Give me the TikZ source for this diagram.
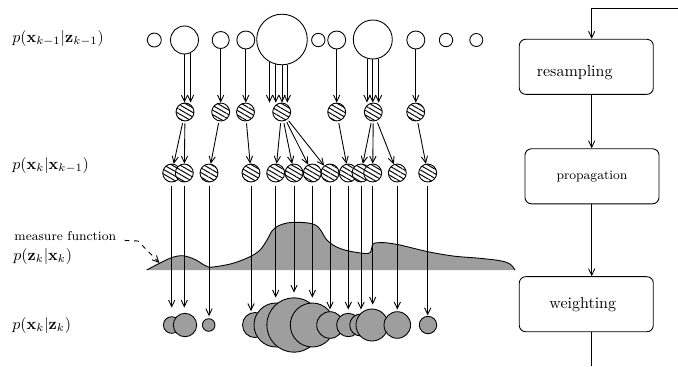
\documentclass[tikz,border=0pt]{standalone}
\usetikzlibrary{arrows.meta,patterns.meta,calc}
\definecolor{wfill}{RGB}{158,158,158}
\tikzset{
  arr/.style={-{Straight Barb[length=4.1pt,width=3.9pt]}},
  ocirc/.style={circle,draw,inner sep=0pt,minimum size={#1*1.25pt}},
  hcirc/.style={circle,draw,inner sep=0pt,minimum size=11.2pt,preaction={fill=white},
    pattern={Lines[angle=-30,distance=2.5pt,line width=0.6pt]}},
  wcirc/.style={circle,draw,fill=wfill,inner sep=0pt,minimum size={#1*1.25pt}},
  fbox/.style={draw,rounded corners=4pt,minimum width=83.75pt,minimum height=34.4pt,inner sep=0pt},
  lab/.style={inner sep=0pt,anchor=west},
}
\begin{document}
\begin{tikzpicture}[x=0.625pt,y=-0.625pt,line width=0.55pt]
\useasboundingbox (0,0) rectangle (678,366);

% measure function
\fill[wfill] plot[smooth,tension=0.55] coordinates {(146.7,270) (160,263) (172,257.5) (183,255.7) (195,259.5) (204,265) (209,267.2) (220,266) (234,263) (250,256.7) (260,250) (267,240) (272,231) (278,226) (287,223) (298,222.3) (310,223.3) (317,226) (321.7,231.7) (326,239) (333,245) (343,249.5) (357,252.5) (368,253.5) (371,251) (372.5,244.5) (375,243) (385,242.7) (400,245) (427,251.5) (453,256) (480,258.3) (500,260.7) (510,264) (515,270)} -- cycle;
\draw plot[smooth,tension=0.55] coordinates {(146.7,270) (160,263) (172,257.5) (183,255.7) (195,259.5) (204,265) (209,267.2) (220,266) (234,263) (250,256.7) (260,250) (267,240) (272,231) (278,226) (287,223) (298,222.3) (310,223.3) (317,226) (321.7,231.7) (326,239) (333,245) (343,249.5) (357,252.5) (368,253.5) (371,251) (372.5,244.5) (375,243) (385,242.7) (400,245) (427,251.5) (453,256) (480,258.3) (500,260.7) (510,264) (515,270)};

% labels
\node[lab] (l1) at (12,38.5) {$p(\mathbf{x}_{k-1}|\mathbf{z}_{k-1})$};
\node[lab] (l2) at (12,165) {$p(\mathbf{x}_k|\mathbf{x}_{k-1})$};
\node[lab,anchor=base west,font=\footnotesize] (mf) at (14,240) {measure function};
\node[lab] (l3) at (13,256.5) {$p(\mathbf{z}_k|\mathbf{x}_k)$};
\node[lab] (l4) at (12,325) {$p(\mathbf{x}_k|\mathbf{z}_k)$};
\coordinate (mk) at (138,241);
\coordinate (mt) at (159.5,263);
\draw[arr,dashed,shorten <=5pt] (mf.base east) -- (mk) -- (mt);

% row 1: prior particles
\foreach \n/\x/\y/\r in {1/154.3/40/7,2/184.5/40/14,3/220.7/40/8.5,4/245.8/40/9,5/282/39.5/25.3,6/318.3/40/6.7,7/336.7/40/9,8/372.8/39.5/19.5,9/415.8/40/9,10/446/40/6.7,11/476.3/40/6.5}
  \node[ocirc=\r] (c\n) at (\x,\y) {};

% row 2: resampled particles
\foreach \n/\x in {1/185,2/220.7,3/245.5,4/281.7,5/336.7,6/373.3,7/415.7}
  \node[hcirc] (s\n) at (\x,112) {};

% row 1 -> row 2
\foreach \c/\a/\s in {2/270/1,2/295.4/1,3/270/2,4/270/3,5/241.7/4,5/256.3/4,5/270/4,5/282.6/4,7/270/5,8/253/6,8/270/6,8/287.9/6,9/270/7}
  \draw[arr] (c\c.\a) -- (c\c.\a |- s\s.north);

% row 3: propagated particles
\foreach \n/\x in {1/171.7,2/184.3,3/209,4/251,5/275.7,6/294,7/312.3,8/330,9/348.3,10/361,11/372.7,12/397.3,13/427.7}
  \node[hcirc] (q\n) at (\x,173) {};

% row 2 -> row 3
\foreach \s/\q in {1/1,1/2,2/3,3/4,4/5,4/6,4/7,4/8,5/9,6/10,6/11,6/12,7/13}
  \draw[arr,shorten <=1.2pt] (s\s) -- (q\q);

% row 4: weighted particles
\foreach \n/\x/\r in {1/171.7/8.3,2/185/11.7,3/208.7/6.3,4/255/12.5,5/276/22,6/294/27.2,7/312.3/22,8/330/13.3,9/348.3/11.7,10/360.7/11,11/372/16,12/397.3/13.3,13/428/8.7}
  \node[wcirc=\r] (w\n) at (\x,325) {};

% row 3 -> row 4
\foreach \n/\g in {1/5.4,2/3.3,3/1.25,4/0.6,5/3.1,6/3,7/3.1,8/1.1,9/2.1,10/2.5,11/2.5,12/1.1,13/0.3}
  \draw[arr,shorten <=2pt,shorten >=\g pt] (q\n.south) -- (q\n.south |- w\n.north);

% flow chart
\node[fbox,label={[xshift=-7.25pt,yshift=-3.6pt]center:resampling}] (res) at (586.3,66.8) {};
\node[fbox,font=\footnotesize] (prop) at (592,176.3) {propagation};
\node[fbox,label={[xshift=-2.2pt]center:weighting}] (wei) at (586.3,304.2) {};
\coordinate (lx) at (591.7,8);
\coordinate (tr) at (678,8);
\coordinate (bot) at (591.7,366);
\draw[arr] (tr) -- (lx) -- (lx |- res.north);
\draw[arr] (res.south -| lx) -- (prop.north -| lx);
\draw[arr] (prop.south -| lx) -- (wei.north -| lx);
\draw (wei.south -| lx) -- (bot);
\end{tikzpicture}
\end{document}
